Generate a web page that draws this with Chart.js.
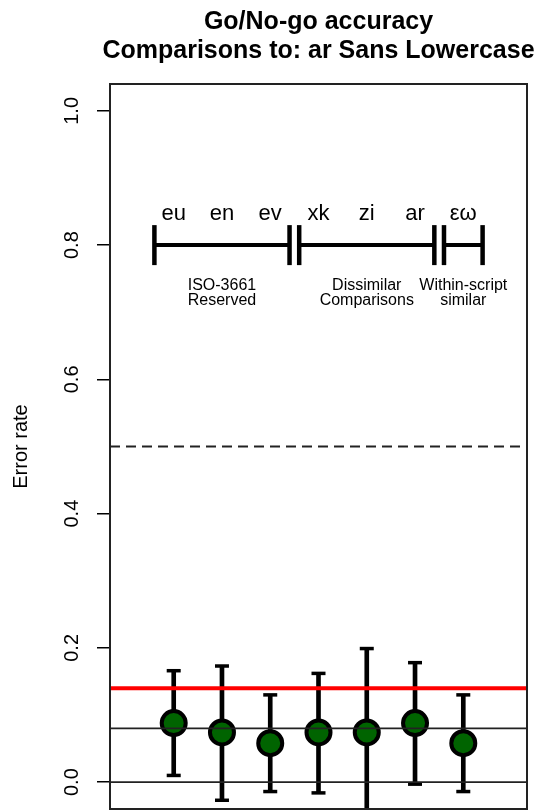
<!DOCTYPE html>
<html>
<head>
<meta charset="utf-8">
<script src="https://cdn.jsdelivr.net/npm/chart.js@4.4.1/dist/chart.umd.min.js"></script>
<style>
  html, body { margin: 0; padding: 0; background: #fff; overflow: hidden; }
  canvas { display: block; }
</style>
</head>
<body>
<canvas id="myChart" width="543" height="810"></canvas>
<script>
// Data
const xPos = [1, 2, 3, 4, 5, 6, 7];
const pairLabels = ['eu', 'en', 'ev', 'xk', 'zi', 'ar', 'εω'];
const errorRate = [0.088, 0.074, 0.058, 0.074, 0.074, 0.088, 0.058];
const errUpper = [0.166, 0.173, 0.130, 0.162, 0.199, 0.178, 0.130];
const errLower = [0.010, -0.027, -0.014, -0.016, -0.051, -0.003, -0.014];

const groupNames = [['ISO-3661', 'Reserved'], ['Dissimilar', 'Comparisons'], ['Within-script', 'similar']];
const groupStart = [0.6, 3.6, 6.6];
const groupEnd = [3.4, 6.4, 7.4];
const groupCenter = [2, 5, 7];
const bracketY = 0.8;

const yTicks = [0, 0.2, 0.4, 0.6, 0.8, 1.0];
const chanceLevel = 0.5;
const redLevel = 0.14;
const blackLevels = [0, 0.08];

const titleLines = ['Go/No-go accuracy', 'Comparisons to: ar Sans Lowercase'];
const yTitle = 'Error rate';

const FONT = '"Liberation Sans", Arial, Helvetica, sans-serif';

// datasets
const pointData = xPos.map((x, i) => ({ x: x, y: errorRate[i] }));
const stemData = xPos.map((x, i) => ({ x: x, y: [errLower[i], errUpper[i]] }));
const capData = xPos.map((x, i) => ({ x: x, y: errUpper[i] }))
    .concat(xPos.map((x, i) => ({ x: x, y: errLower[i] })));

const bracketSets = groupStart.map((s, i) => ({
    type: 'scatter',
    data: [{ x: s, y: bracketY }, { x: groupEnd[i], y: bracketY }],
    showLine: true,
    borderColor: '#000',
    borderWidth: 4,
    pointStyle: 'line',
    rotation: 90,
    pointRadius: 20,
    pointBorderWidth: 4.5,
    pointBorderColor: '#000',
    order: 3
}));

const annotate = {
    id: 'annotate',
    afterDatasetsDraw(chart) {
        const ctx = chart.ctx;
        const xs = chart.scales.x;
        const ys = chart.scales.y;
        const area = chart.chartArea;
        ctx.save();

        // reference lines
        ctx.beginPath();
        ctx.rect(area.left, area.top, area.right - area.left, area.bottom - area.top);
        ctx.clip();
        ctx.strokeStyle = '#222';
        ctx.lineWidth = 1.8;
        blackLevels.forEach(v => {
            const y = ys.getPixelForValue(v);
            ctx.beginPath();
            ctx.moveTo(area.left, y);
            ctx.lineTo(area.right, y);
            ctx.stroke();
        });
        ctx.setLineDash([10, 6]);
        ctx.lineWidth = 2;
        let y = ys.getPixelForValue(chanceLevel);
        ctx.beginPath();
        ctx.moveTo(area.left, y);
        ctx.lineTo(area.right, y);
        ctx.stroke();
        ctx.setLineDash([]);
        ctx.strokeStyle = '#ff0000';
        ctx.lineWidth = 4;
        y = ys.getPixelForValue(redLevel);
        ctx.beginPath();
        ctx.moveTo(area.left, y);
        ctx.lineTo(area.right, y);
        ctx.stroke();
        ctx.restore();

        ctx.save();
        ctx.fillStyle = '#000';
        // pair labels above the brackets
        ctx.font = '22px ' + FONT;
        ctx.textAlign = 'center';
        ctx.textBaseline = 'alphabetic';
        pairLabels.forEach((t, i) => {
            ctx.fillText(t, xs.getPixelForValue(xPos[i]), ys.getPixelForValue(0.838));
        });
        // group labels
        ctx.font = '16px ' + FONT;
        ctx.textBaseline = 'middle';
        groupNames.forEach((lines, i) => {
            const gx = xs.getPixelForValue(groupCenter[i]);
            const gy = ys.getPixelForValue(0.74);
            lines.forEach((l, j) => ctx.fillText(l, gx, gy + j * 15.5));
        });

        // plot box
        ctx.strokeStyle = '#222';
        ctx.lineWidth = 2;
        ctx.strokeRect(area.left, area.top, area.right - area.left, area.bottom - area.top);

        // y tick labels, rotated like R
        ctx.font = '20px ' + FONT;
        ctx.textAlign = 'center';
        ctx.textBaseline = 'middle';
        yTicks.forEach(v => {
            ctx.save();
            ctx.translate(72, ys.getPixelForValue(v));
            ctx.rotate(-Math.PI / 2);
            ctx.fillText(v.toFixed(1), 0, 0);
            ctx.restore();
        });
        // y axis title
        ctx.save();
        ctx.translate(21, (area.top + area.bottom) / 2);
        ctx.rotate(-Math.PI / 2);
        ctx.fillText(yTitle, 0, 0);
        ctx.restore();

        // title over plot region
        ctx.font = 'bold 25px ' + FONT;
        ctx.textBaseline = 'alphabetic';
        const cx = (area.left + area.right) / 2;
        ctx.fillText(titleLines[0], cx, 29);
        ctx.fillText(titleLines[1], cx, 58);
        ctx.restore();
    }
};

const ctx = document.getElementById('myChart');

const chart = new Chart(ctx, {
    type: 'scatter',
    data: {
        datasets: [
            {
                type: 'scatter',
                data: pointData,
                backgroundColor: '#006400',
                borderColor: '#000',
                borderWidth: 4,
                pointRadius: 12,
                order: 0
            },
            {
                type: 'scatter',
                data: capData,
                pointStyle: 'line',
                pointRadius: 7,
                borderColor: '#000',
                borderWidth: 3.5,
                order: 1
            },
            {
                type: 'bar',
                data: stemData,
                backgroundColor: '#000',
                borderWidth: 0,
                barThickness: 4,
                order: 2
            },
            ...bracketSets
        ]
    },
    options: {
        responsive: false,
        animation: false,
        events: [],
        layout: {
            autoPadding: false,
            padding: { left: 0, right: 16, top: 84, bottom: 1 }
        },
        plugins: {
            legend: { display: false },
            tooltip: { enabled: false },
            title: { display: false }
        },
        scales: {
            x: {
                type: 'linear',
                display: false,
                offset: false,
                min: -0.32,
                max: 8.32
            },
            y: {
                type: 'linear',
                min: -0.04,
                max: 1.04,
                afterFit: s => { s.width = 110; },
                afterBuildTicks: s => { s.ticks = yTicks.map(v => ({ value: v })); },
                ticks: { display: false },
                border: { display: false },
                grid: {
                    drawOnChartArea: false,
                    drawTicks: true,
                    tickLength: 13,
                    color: '#000',
                    lineWidth: 1.5
                }
            }
        }
    },
    plugins: [annotate]
});
</script>
</body>
</html>
